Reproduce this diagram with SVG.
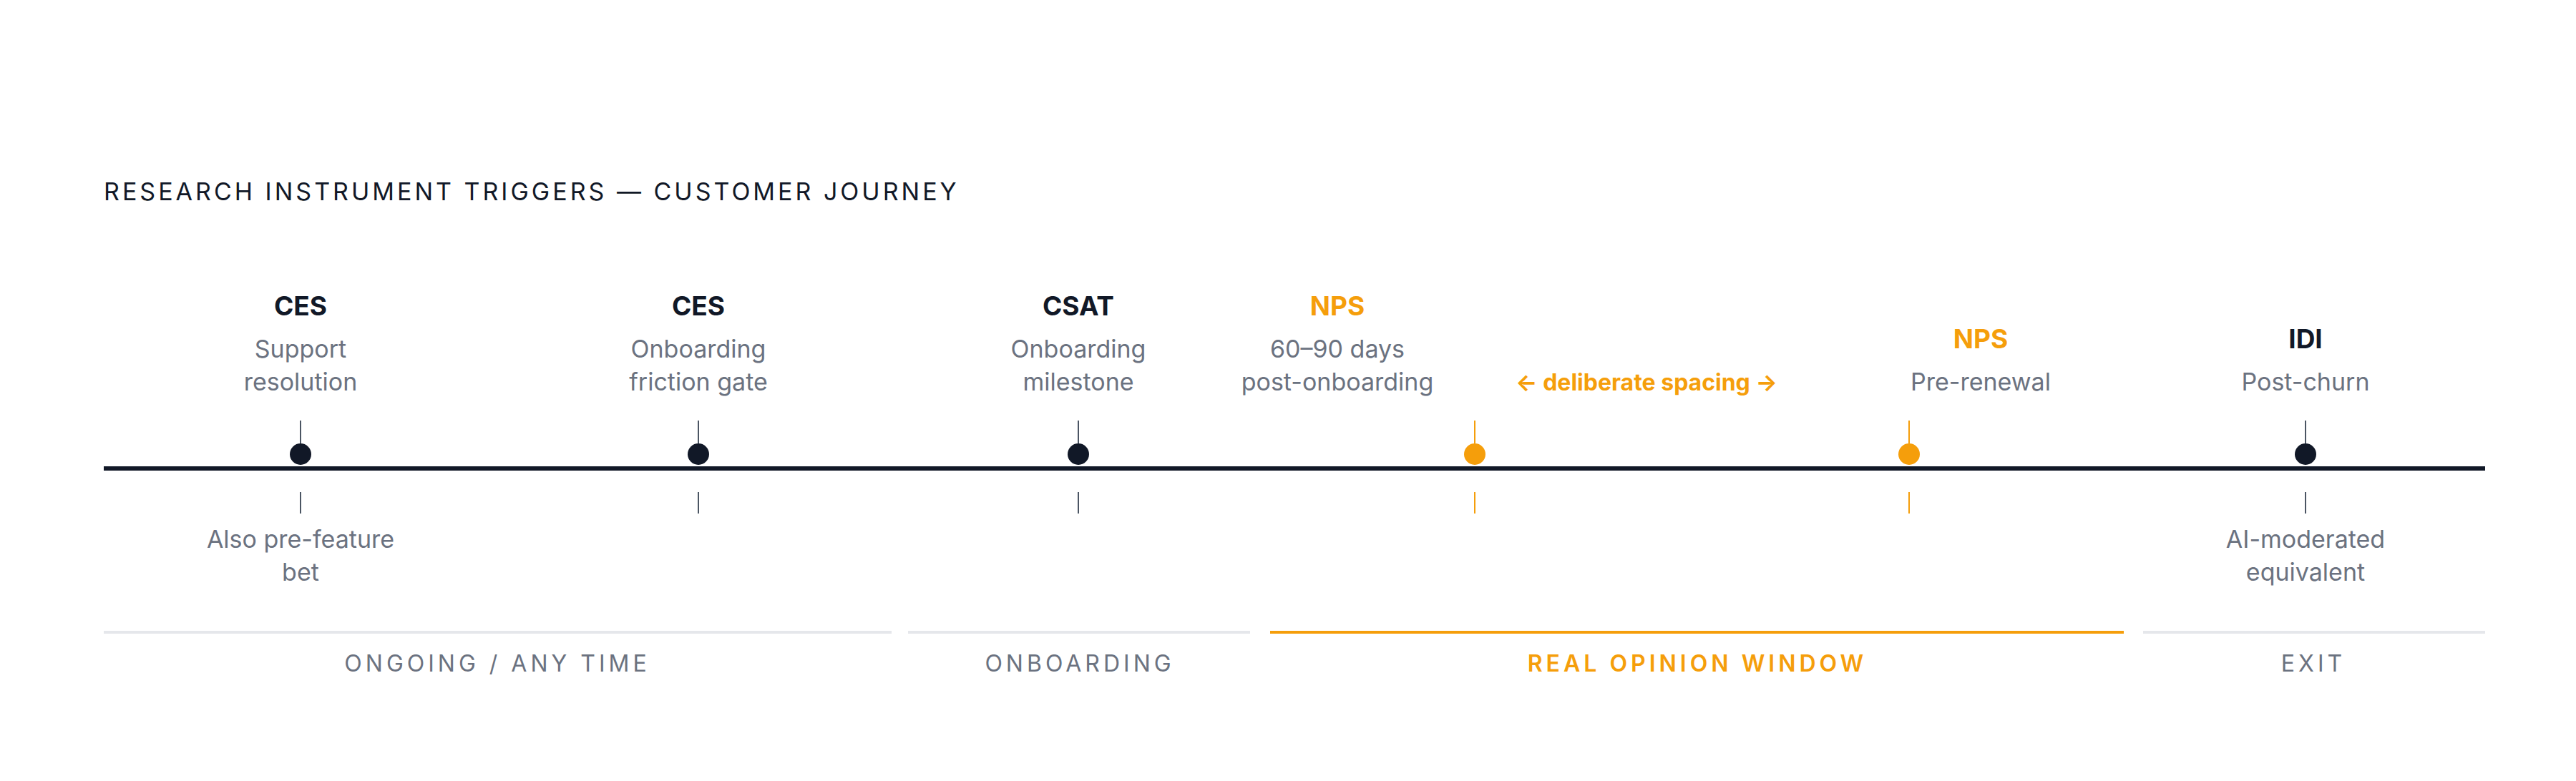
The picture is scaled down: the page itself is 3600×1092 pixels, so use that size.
<svg xmlns="http://www.w3.org/2000/svg" width="3600" height="1092" viewBox="0 0 3600 1092">
<style>
text{font-family:Inter,"Liberation Sans",sans-serif}
.t{font-size:34px;fill:#111827;letter-spacing:4px}
.h{font-size:37px;font-weight:700;text-anchor:middle;fill:#111827}
.ho{fill:#f59e0b}
.s{font-size:34px;fill:#6b7280;text-anchor:middle}
.p{font-size:32px;fill:#6b7280;text-anchor:middle;letter-spacing:5px}
.tk{stroke:#4b5563;stroke-width:2}
.tko{stroke:#f59e0b;stroke-width:2}
</style>
<rect width="3600" height="1092" fill="#fff"/>
<text class="t" x="145" y="280">RESEARCH INSTRUMENT TRIGGERS — CUSTOMER JOURNEY</text>
<g id="connectors">
<line x1="145" y1="655" x2="3473" y2="655" stroke="#111827" stroke-width="6"/>
<line x1="145" y1="884" x2="1246" y2="884" stroke="#e5e7eb" stroke-width="4"/>
<line x1="1269" y1="884" x2="1747" y2="884" stroke="#e5e7eb" stroke-width="4"/>
<line x1="1775" y1="884" x2="2968" y2="884" stroke="#f59e0b" stroke-width="4"/>
<line x1="2995" y1="884" x2="3473" y2="884" stroke="#e5e7eb" stroke-width="4"/>
</g>
<g id="n1"><text class="h" x="420" y="441">CES</text><text class="s" x="420" y="500">Support</text><text class="s" x="420" y="546">resolution</text>
<line class="tk" x1="420" y1="588" x2="420" y2="620"/><circle cx="420" cy="635" r="15" fill="#111827"/><line class="tk" x1="420" y1="688" x2="420" y2="718"/>
<text class="s" x="420" y="766">Also pre-feature</text><text class="s" x="420" y="812">bet</text></g>
<g id="n2"><text class="h" x="976" y="441">CES</text><text class="s" x="976" y="500">Onboarding</text><text class="s" x="976" y="546">friction gate</text>
<line class="tk" x1="976" y1="588" x2="976" y2="620"/><circle cx="976" cy="635" r="15" fill="#111827"/><line class="tk" x1="976" y1="688" x2="976" y2="718"/></g>
<g id="n3"><text class="h" x="1507" y="441">CSAT</text><text class="s" x="1507" y="500">Onboarding</text><text class="s" x="1507" y="546">milestone</text>
<line class="tk" x1="1507" y1="588" x2="1507" y2="620"/><circle cx="1507" cy="635" r="15" fill="#111827"/><line class="tk" x1="1507" y1="688" x2="1507" y2="718"/></g>
<g id="n4"><text class="h ho" x="1869" y="441">NPS</text><text class="s" x="1869" y="500">60–90 days</text><text class="s" x="1869" y="546">post-onboarding</text>
<line class="tko" x1="2061" y1="588" x2="2061" y2="620"/><circle cx="2061" cy="635" r="15" fill="#f59e0b"/><line class="tko" x1="2061" y1="688" x2="2061" y2="718"/></g>
<g id="spacing"><text x="2301" y="546" font-size="32" font-weight="700" fill="#f59e0b" text-anchor="middle">← deliberate spacing →</text></g>
<g id="n5"><text class="h ho" x="2768" y="487">NPS</text><text class="s" x="2768" y="546">Pre-renewal</text>
<line class="tko" x1="2668" y1="588" x2="2668" y2="620"/><circle cx="2668" cy="635" r="15" fill="#f59e0b"/><line class="tko" x1="2668" y1="688" x2="2668" y2="718"/></g>
<g id="n6"><text class="h" x="3222" y="487">IDI</text><text class="s" x="3222" y="546">Post-churn</text>
<line class="tk" x1="3222" y1="588" x2="3222" y2="620"/><circle cx="3222" cy="635" r="15" fill="#111827"/><line class="tk" x1="3222" y1="688" x2="3222" y2="718"/>
<text class="s" x="3222" y="766">AI-moderated</text><text class="s" x="3222" y="812">equivalent</text></g>
<g id="phases">
<text class="p" x="695" y="939">ONGOING / ANY TIME</text>
<text class="p" x="1509" y="939">ONBOARDING</text>
<text class="p" x="2372" y="939" style="fill:#f59e0b;font-weight:600">REAL OPINION WINDOW</text>
<text class="p" x="3233" y="939">EXIT</text>
</g>
</svg>
